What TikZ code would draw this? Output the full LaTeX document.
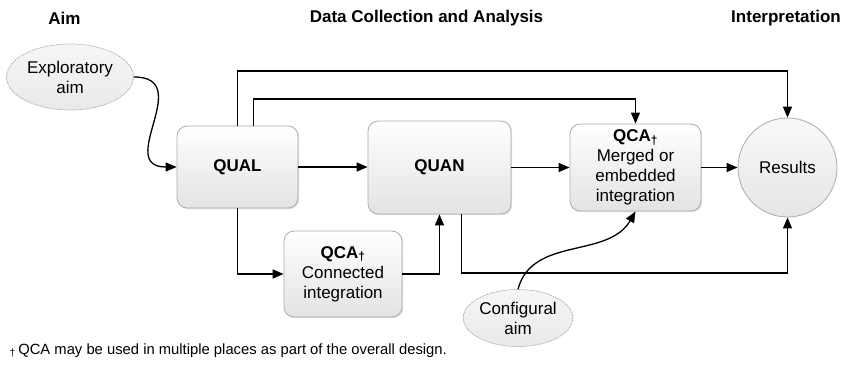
\documentclass[tikz,border=0pt]{standalone}
\usepackage{fontspec}
\setmainfont{Liberation Sans}
\usetikzlibrary{arrows.meta,shapes.geometric,shadows}

\begin{document}
\begin{tikzpicture}[x=1pt,y=-1pt,
  every node/.style={font=\fontsize{17}{20}\selectfont},
  box/.style={draw=gray!65, line width=0.8pt, rounded corners=10pt,
    top color=white, bottom color=gray!22, align=center, inner sep=0pt,
    drop shadow={shadow xshift=1.2pt, shadow yshift=-1.2pt, opacity=0.25}},
  aim/.style={ellipse, draw=gray!70, line width=0.7pt, dash pattern=on 1.5pt off 1pt,
    top color=gray!7, bottom color=gray!17, align=center, inner sep=0pt},
  flow/.style={line width=1.3pt, -{Triangle[length=11pt,width=9pt]}},
  head/.style={font=\fontsize{17}{20}\selectfont\bfseries}
]
% canvas
\useasboundingbox (0,0) rectangle (845,375);

% column headings
\node[head] (hAim) at (64.5,18) {Aim};
\node[head] (hData) at (426.5,18) {Data Collection and Analysis};
\node[head] (hInt) at (786,18) {Interpretation};

% aims
\node[aim, minimum width=127pt, minimum height=66pt] (ea) at (70,77) {Exploratory\\aim};
\node[aim, minimum width=107pt, minimum height=57pt] (ca) at (518,318) {Configural\\aim};

% strands and integration points
\node[box, minimum width=121pt, minimum height=82pt] (qual) at (237.5,167) {\textbf{QUAL}};
\node[box, minimum width=143pt, minimum height=93pt] (quan) at (439.5,167.5) {\textbf{QUAN}};
\node[box, minimum width=118pt, minimum height=86pt] (qcac) at (343,274)
  {\textbf{QCA\textsubscript{†}}\\Connected\\integration};
\node[box, minimum width=131pt, minimum height=87pt] (qcam) at (635.5,167.5)
  {\textbf{QCA\textsubscript{†}}\\Merged or\\embedded\\integration};
\node[circle, draw=gray!65, line width=0.8pt, top color=gray!5, bottom color=gray!20,
  minimum size=99pt, inner sep=0pt] (res) at (787.5,167.5) {Results};

% routing points
\coordinate (t1) at (237.5,71);
\coordinate (t2) at (253.5,99);
\coordinate (b1) at (787.5,273);

% connectors
\draw[flow] (ea.east) to[out=0,in=180,looseness=1.6] (qual.west);
\draw[flow] (qual.east) -- (quan.west |- qual.east);
\draw[flow] (quan.east |- qcam.west) -- (qcam.west);
\draw[flow] (qcam.east) -- (res.west |- qcam.east);
\draw[flow] (qual.north) -- (t1) -| (res.north);
\draw[flow] (qual.north -| t2) -- (t2) -| (qcam.north);
\draw[flow] (qual.south) |- (qcac.west);
\draw[flow] (qcac.east) -| (quan.south);
\draw[flow] ([xshift=22pt]quan.south) |- (b1) -- (res.south);
\draw[flow] (ca.north) to[out=75,in=240] (qcam.south);

% footnote
\node[anchor=base west, font=\fontsize{14.8}{17}\selectfont] (fn) at (6,354)
  {\textsubscript{†}\,QCA may be used in multiple places as part of the overall design.};
\end{tikzpicture}
\end{document}
